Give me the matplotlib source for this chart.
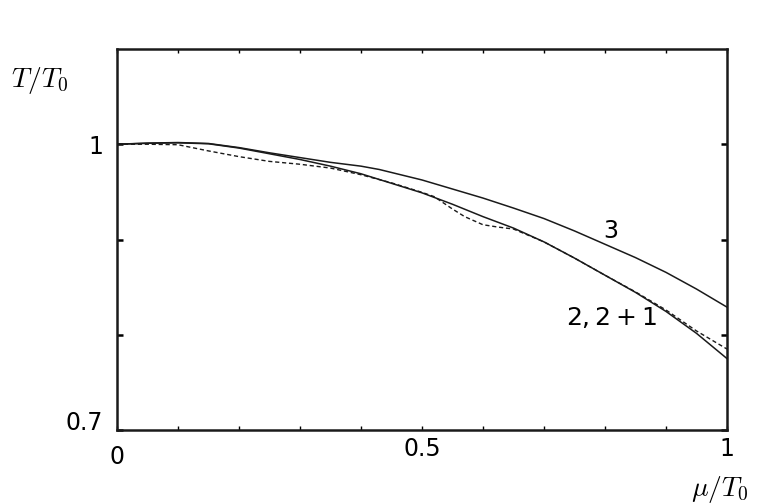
"""
Pseudo-critical temperature vs chemical potential, T/T0 against mu/T0.
"""
import matplotlib.pyplot as plt
import numpy as np

plt.rcParams['font.family'] = ['DejaVu Sans']
plt.rcParams['mathtext.fontset'] = 'cm'

# Data
mu_3 = [0, 0.05, 0.1, 0.15, 0.2, 0.25, 0.3, 0.35, 0.4, 0.43, 0.5, 0.55,
        0.6, 0.65, 0.7, 0.75, 0.8, 0.85, 0.9, 0.95, 1.0]
T_3 = [1.0, 1.0012, 1.0018, 1.0008, 0.9965, 0.991, 0.986, 0.981, 0.977,
       0.9735, 0.9625, 0.953, 0.9435, 0.933, 0.922, 0.909, 0.895,
       0.881, 0.8655, 0.848, 0.829]

mu_2 = [0, 0.05, 0.1, 0.15, 0.2, 0.25, 0.3, 0.35, 0.4, 0.43, 0.5, 0.55,
        0.6, 0.65, 0.7, 0.75, 0.8, 0.85, 0.9, 0.95, 1.0]
T_2 = [1.0, 1.001, 1.0015, 1.0005, 0.996, 0.990, 0.984, 0.977, 0.969,
       0.963, 0.949, 0.937, 0.924, 0.912, 0.8975, 0.8805, 0.8625, 0.8445,
       0.8245, 0.8015, 0.775]

mu_21 = [0, 0.05, 0.1, 0.15, 0.2, 0.25, 0.3, 0.35, 0.4, 0.45, 0.5, 0.52,
         0.55, 0.57, 0.6, 0.625, 0.65, 0.7, 0.75, 0.8, 0.85, 0.9, 0.95, 1.0]
T_21 = [1.0, 1.0, 0.9995, 0.993, 0.987, 0.982, 0.979, 0.975, 0.968, 0.9595,
        0.9495, 0.945, 0.932, 0.924, 0.9155, 0.913, 0.911, 0.8975, 0.8805,
        0.8625, 0.845, 0.826, 0.804, 0.785]

fig = plt.figure(figsize=(7.63, 5.04), dpi=100)
ax = fig.add_axes([0.1533, 0.1468, 0.7995, 0.756])

ax.plot(mu_3, T_3, color='#1a1a1a', linewidth=1.1)
ax.plot(mu_2, T_2, color='#1a1a1a', linewidth=1.1)
ax.plot(mu_21, T_21, color='#1a1a1a', linewidth=1.0, linestyle=(0, (3, 2)))

ax.set_xlim(0, 1)
ax.set_ylim(0.7, 1.1)

ax.set_xticks([0, 0.5, 1])
ax.set_xticklabels(['0', '0.5', '1'])
ax.set_xticks(np.arange(0.1, 1.0, 0.1), minor=True)
ax.set_yticks([0.7, 0.8, 0.9, 1.0])
ax.set_yticklabels(['0.7', '', '', '1'])

ax.tick_params(axis='x', which='both', direction='in', top=True, length=3,
               width=1.0, labelsize=17, pad=5)
ax.tick_params(axis='y', which='both', direction='in', right=True, length=4.5,
               width=1.8, labelsize=17, pad=10)
# the "0" sits a bit lower than the others, "0.7" a bit higher
ax.xaxis.get_major_ticks()[0].set_pad(11)
ax.get_yticklabels()[0].set_va('baseline')

for s in ax.spines.values():
    s.set_linewidth(1.8)
    s.set_color('#1a1a1a')

fig.text(0.015, 0.841, r'$T/T_0$', fontsize=20, ha='left', va='center')
fig.text(0.906, 0.028, r'$\mu/T_0$', fontsize=20, ha='left', va='center')

ax.text(0.81, 0.9085, '3', fontsize=17, ha='center', va='center')
ax.text(0.81, 0.8185, '$2,2+1$', fontsize=18, ha='center', va='center',
        math_fontfamily='dejavusans')

plt.savefig('out.png', dpi=100)
